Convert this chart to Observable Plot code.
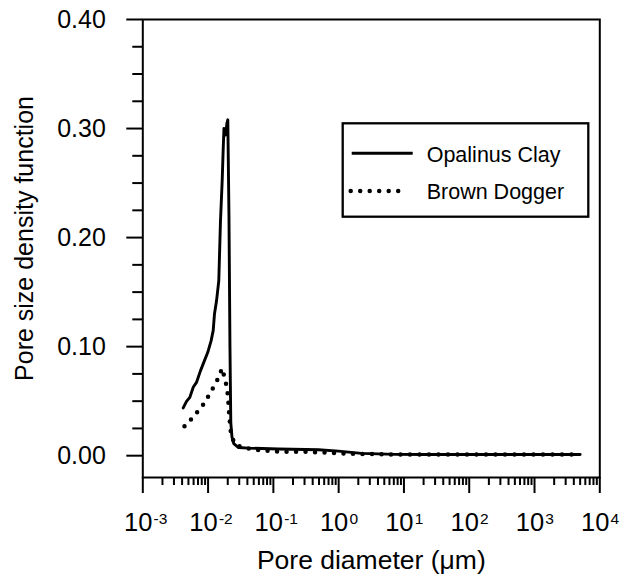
<!DOCTYPE html>
<html>
<head>
<meta charset="utf-8">
<script src="https://cdn.jsdelivr.net/npm/d3@7"></script>
<script src="https://cdn.jsdelivr.net/npm/@observablehq/plot@0.6"></script>
<style>
  body { margin: 0; background: #fff; }
  #chart { position: relative; width: 629px; height: 579px; }
</style>
</head>
<body>
<div id="chart"></div>
<script>
// ---- data ----
const seriesNames = ["Opalinus Clay", "Brown Dogger"];

const opalinusDiameter = [0.00416, 0.00467, 0.00525, 0.00592, 0.00664, 0.00766, 0.00859, 0.00989, 0.01114, 0.01197,
  0.01253, 0.01347, 0.01459, 0.01549, 0.01644, 0.01702, 0.01750, 0.01845, 0.01945, 0.02005,
  0.02089, 0.02163, 0.02228, 0.02323, 0.02477, 0.0292, 0.0415, 0.120, 0.49, 0.99,
  2.24, 7.3, 20, 100, 500, 1000, 5000];
const opalinusDensity = [0.0438, 0.0498, 0.0535, 0.0627, 0.0672, 0.0780, 0.0856, 0.0948, 0.1055, 0.1147,
  0.130, 0.142, 0.1606, 0.2156, 0.252, 0.280, 0.300, 0.294, 0.305, 0.308,
  0.220, 0.100, 0.030, 0.017, 0.011, 0.0075, 0.0069, 0.0062, 0.0055, 0.0042,
  0.0021, 0.0012, 0.0011, 0.0011, 0.0011, 0.0011, 0.0011];

const doggerDiameter = [0.00435, 0.00537, 0.00641, 0.00783, 0.00912, 0.01089, 0.01268, 0.01459, 0.01633, 0.01803,
  0.01959, 0.02033, 0.02075, 0.02129, 0.02203, 0.02281, 0.02793, 0.03741, 0.0442, 0.0628,
  0.0893, 0.127, 0.257, 0.366, 0.521, 0.741, 1.05, 2.13, 6.15, 50, 5000];
const doggerDensity = [0.0269, 0.0327, 0.0382, 0.0440, 0.0500, 0.0580, 0.0650, 0.0720, 0.0800, 0.0710,
  0.0610, 0.0520, 0.0430, 0.0340, 0.0245, 0.0168, 0.0090, 0.0076, 0.0061, 0.0051,
  0.0043, 0.0037, 0.0037, 0.0034, 0.0030, 0.0028, 0.0021, 0.0016, 0.0012, 0.0011, 0.0011];

const xMajorTicks = [1e-3, 1e-2, 1e-1, 1e0, 1e1, 1e2, 1e3, 1e4];
const xTickExponents = ["-3", "-2", "-1", "0", "1", "2", "3", "4"];
const xMinorMultipliers = [2, 3, 4, 5, 6, 7, 8, 9];
const yMajorTicks = [0, 0.1, 0.2, 0.3, 0.4];
const yMinorTicks = [0.025, 0.05, 0.075, 0.125, 0.15, 0.175, 0.225, 0.25, 0.275, 0.325, 0.35, 0.375];
const xTitle = "Pore diameter (μm)";
const yTitle = "Pore size density function";

// ---- derived tables ----
const opalinus = opalinusDiameter.map((d, i) => ({d, v: opalinusDensity[i], series: seriesNames[0]}));
const dogger = doggerDiameter.map((d, i) => ({d, v: doggerDensity[i], series: seriesNames[1]}));
const xMinorTicks = xMajorTicks.slice(0, -1).flatMap(p => xMinorMultipliers.map(m => m * p));

const FONT = "'Liberation Sans', Arial, Helvetica, sans-serif";

const plot = Plot.plot({
  width: 629,
  height: 579,
  marginLeft: 142.3,
  marginRight: 29.7,
  marginTop: 19,
  marginBottom: 102,
  style: {fontFamily: FONT, background: "white", color: "black"},
  x: {type: "log", domain: [1e-3, 1e4], axis: null, label: null},
  y: {domain: [-0.02, 0.40], axis: null, label: null},
  marks: [
    Plot.axisY(yMajorTicks, {anchor: "left", tickSize: 16, tickPadding: 21, tickFormat: d3.format(".2f"),
      fontSize: 25, strokeWidth: 2, label: null}),
    Plot.axisY(yMinorTicks, {anchor: "left", tickSize: 10, tickFormat: () => "", strokeWidth: 2, label: null}),
    Plot.axisX(xMajorTicks, {anchor: "bottom", tickSize: 16, tickFormat: () => "", strokeWidth: 2, label: null}),
    Plot.axisX(xMinorTicks, {anchor: "bottom", tickSize: 8, tickFormat: () => "", strokeWidth: 2, label: null}),
    Plot.text(xMajorTicks, {x: d => d, text: () => "10", frameAnchor: "bottom", textAnchor: "end",
      dx: 9.6, dy: 53.5, fontSize: 25.5}),
    Plot.text(xMajorTicks, {x: d => d, text: (d, i) => xTickExponents[i], frameAnchor: "bottom", textAnchor: "start",
      dx: 10.8, dy: 46.5, fontSize: 15.5}),
    Plot.text([xTitle], {text: d => d, frameAnchor: "bottom", textAnchor: "middle", dy: 91, fontSize: 26.5}),
    Plot.text([yTitle], {text: d => d, frameAnchor: "left", textAnchor: "middle", rotate: -90,
      dx: -118, dy: -10, fontSize: 25}),
    Plot.line(dogger, {x: "d", y: "v", stroke: "black", strokeWidth: 4.5, strokeDasharray: "0 9.5", strokeLinecap: "round"}),
    Plot.line(opalinus, {x: "d", y: "v", stroke: "black", strokeWidth: 2.9}),
    Plot.frame({stroke: "black", strokeWidth: 2})
  ]
});

// ---- legend inside the plot ----
const svg = d3.select(plot);
const lg = svg.append("g").attr("font-family", FONT).attr("text-anchor", "start");
lg.append("rect").attr("x", 342.7).attr("y", 123.3).attr("width", 245.6).attr("height", 93.4)
  .attr("fill", "white").attr("stroke", "black").attr("stroke-width", 2.3);
lg.append("line").attr("x1", 351.7).attr("x2", 412.7).attr("y1", 153.3).attr("y2", 153.3)
  .attr("stroke", "black").attr("stroke-width", 2.9);
lg.append("line").attr("x1", 350.7).attr("x2", 398.3).attr("y1", 191).attr("y2", 191)
  .attr("stroke", "black").attr("stroke-width", 4.5).attr("stroke-dasharray", "0 9.5").attr("stroke-linecap", "round");
lg.selectAll("text.lab").data(seriesNames).join("text")
  .attr("class", "lab")
  .attr("x", 426.7)
  .attr("y", (d, i) => i === 0 ? 161.5 : 199.3)
  .attr("font-size", 21.5)
  .attr("text-anchor", "start")
  .attr("fill", "black")
  .text(d => d);

document.getElementById("chart").appendChild(plot);
</script>
</body>
</html>
